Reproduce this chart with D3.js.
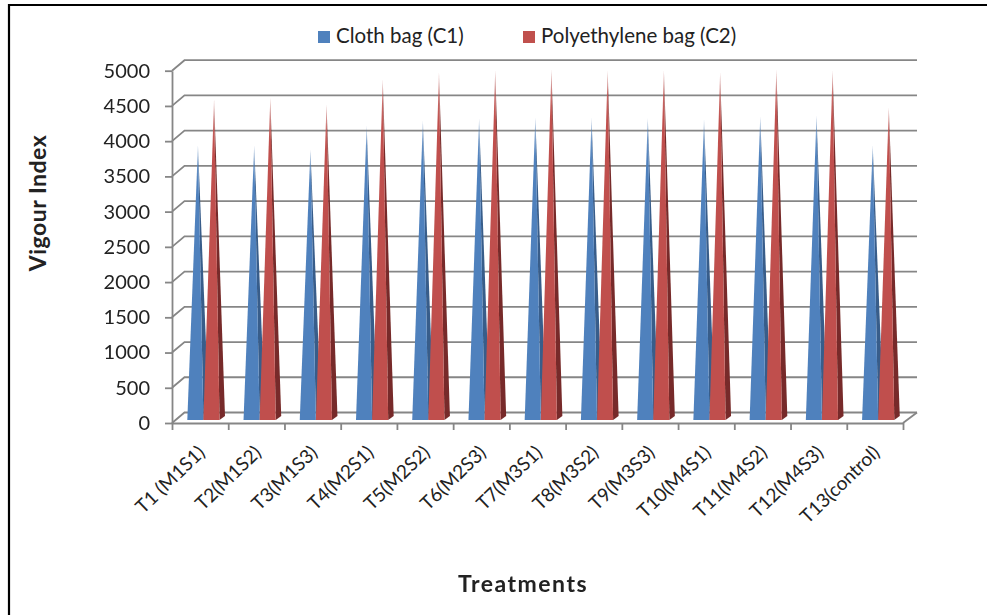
<!DOCTYPE html>
<html>
<head>
<meta charset="utf-8">
<script src="https://cdn.jsdelivr.net/npm/d3@7"></script>
<style>
  html, body { margin: 0; padding: 0; background: #fff; }
  svg { display: block; }
  text { font-family: Lato, "Open Sans", sans-serif; fill: #222; }
</style>
</head>
<body>
<div id="chart"></div>
<script>
const treatments = ['T1 (M1S1)', 'T2(M1S2)', 'T3(M1S3)', 'T4(M2S1)', 'T5(M2S2)', 'T6(M2S3)', 'T7(M3S1)',
    'T8(M3S2)', 'T9(M3S3)', 'T10(M4S1)', 'T11(M4S2)', 'T12(M4S3)', 'T13(control)'];
const clothBag = [3900, 3900, 3840, 4180, 4250, 4280, 4295, 4285, 4285, 4270, 4310, 4325, 3900];
const polyBag = [4550, 4570, 4480, 4830, 4930, 4960, 4975, 4960, 4960, 4930, 4975, 4960, 4437];
const seriesNames = ['Cloth bag (C1)', 'Polyethylene bag (C2)'];
const seriesValues = [clothBag, polyBag];
const yTicks = [0, 500, 1000, 1500, 2000, 2500, 3000, 3500, 4000, 4500, 5000];

const frontColors = ['#4f81bd', '#c0504d'];
const sideColors = ['#385d8a', '#772c2a'];

const width = 987;
const height = 615;

const svg = d3.select('#chart').append('svg')
    .attr('width', width)
    .attr('height', height);

const defs = svg.append('defs');

// soft edges, the original is a scaled down screenshot
defs.append('filter')
    .attr('id', 'soft')
    .append('feGaussianBlur')
    .attr('stdDeviation', 0.4);

// the tips of the spikes wash out towards the top
function addFade(id, color) {
    const grad = defs.append('linearGradient')
        .attr('id', id)
        .attr('x1', 0).attr('y1', 0)
        .attr('x2', 0).attr('y2', 1);
    grad.append('stop').attr('offset', 0).attr('stop-color', color).attr('stop-opacity', 0.45);
    grad.append('stop').attr('offset', 0.07).attr('stop-color', color).attr('stop-opacity', 0.85);
    grad.append('stop').attr('offset', 0.14).attr('stop-color', color).attr('stop-opacity', 1);
}
frontColors.forEach((c, i) => addFade('front' + i, c));
sideColors.forEach((c, i) => addFade('side' + i, c));

const x = d3.scaleBand().domain(treatments).range([172, 903]);
const xTick = d3.scaleLinear().domain([0, treatments.length]).range([172, 903]);
const y = d3.scaleLinear().domain([0, 5000]).range([423, 70.7]);
const inner = d3.scaleBand().domain([0, 1]).range([15.3, 47.5]);

// projection of the 3D walls
const wallDx = 12.5;
const wallDy = -10.5;

const gridGroup = svg.append('g').attr('filter', 'url(#soft)');

gridGroup.selectAll('path.grid')
    .data(yTicks)
    .enter()
    .append('path')
    .attr('class', 'grid')
    .attr('fill', 'none')
    .attr('stroke', '#868686')
    .attr('stroke-width', 1.8)
    .attr('d', d => {
        const px = d3.path();
        px.moveTo(x.range()[0], y(d));
        px.lineTo(x.range()[0] + wallDx, y(d) + wallDy);
        px.lineTo(x.range()[1] + wallDx + 1.5, y(d) + wallDy);
        return px.toString();
    });

// floor edge on the right
gridGroup.append('path')
    .attr('fill', 'none')
    .attr('stroke', '#868686')
    .attr('stroke-width', 1.8)
    .attr('d', `M${x.range()[1]},${y(0)}L${x.range()[1] + wallDx + 1.5},${y(0) + wallDy}`);

const bars = svg.append('g').attr('filter', 'url(#soft)');

treatments.forEach((t, i) => {
    seriesValues.forEach((values, s) => {
        const left = x(t) + inner(s);
        const right = left + inner.bandwidth();
        const base = y(0) - 3;
        const apexX = (left + right) / 2 + 2.6;
        const apexY = y(values[i]) - 3;
        const g = bars.append('g').attr('class', 'bar');
        g.append('path')
            .attr('fill', `url(#side${s})`)
            .attr('d', `M${right},${base}L${right + 5.5},${base - 4}L${apexX},${apexY}Z`);
        g.append('path')
            .attr('fill', `url(#front${s})`)
            .attr('d', `M${left},${base}L${right},${base}L${apexX},${apexY}Z`);
    });
});

const axisGroup = svg.append('g').attr('filter', 'url(#soft)');

const yAxis = axisGroup.append('g')
    .attr('transform', `translate(${x.range()[0]},0)`)
    .call(d3.axisLeft(y).tickValues(yTicks).tickFormat(d3.format('d')).tickSize(7).tickPadding(15).tickSizeOuter(0));

const xAxis = axisGroup.append('g')
    .attr('transform', `translate(0,${y(0)})`)
    .call(d3.axisBottom(xTick).ticks(treatments.length).tickSize(7).tickSizeOuter(0).tickFormat(''));

axisGroup.selectAll('.domain, .tick line')
    .attr('stroke', '#868686')
    .attr('stroke-width', 1.8);

yAxis.selectAll('text')
    .style('font-size', '20px')
    .style('font-family', 'Lato, sans-serif')
    .attr('fill', '#222');

// category labels
svg.append('g').selectAll('text')
    .data(treatments)
    .enter()
    .append('text')
    .attr('text-anchor', 'end')
    .attr('font-size', 19)
    .attr('transform', d => `translate(${x(d) + x.bandwidth() / 2 + 6},${y(0) + 31}) rotate(-44)`)
    .text(d => d);

// legend
const legendSwatch = [318, 523];
const legendText = [336, 541];
seriesNames.forEach((name, i) => {
    svg.append('rect')
        .attr('x', legendSwatch[i])
        .attr('y', 31)
        .attr('width', 12)
        .attr('height', 12)
        .attr('fill', frontColors[i]);
    svg.append('text')
        .attr('x', legendText[i])
        .attr('y', 43)
        .attr('font-size', 20.5)
        .text(name);
});

svg.append('text')
    .attr('transform', 'translate(46,203) rotate(-90)')
    .attr('text-anchor', 'middle')
    .attr('font-size', 23)
    .attr('letter-spacing', 0.5)
    .attr('font-weight', 700)
    .text('Vigour Index');

svg.append('text')
    .attr('x', 523)
    .attr('y', 592)
    .attr('text-anchor', 'middle')
    .attr('font-size', 23)
    .attr('letter-spacing', 1.5)
    .attr('font-weight', 700)
    .text('Treatments');

// picture frame, only top and left are visible
svg.append('path')
    .attr('fill', 'none')
    .attr('stroke', '#000')
    .attr('stroke-width', 2.2)
    .attr('d', `M9,${height}V5H${width}`);
</script>
</body>
</html>
